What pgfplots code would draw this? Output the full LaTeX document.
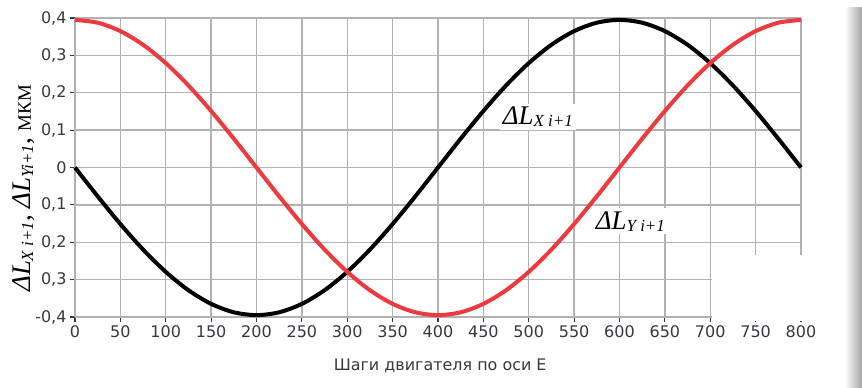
\documentclass[border=0pt]{standalone}
\usepackage{fontspec}
\setmainfont{Liberation Serif}
\setsansfont{DejaVu Sans}
\usepackage{pgfplots}
\pgfplotsset{compat=1.18}
\definecolor{gridgray}{RGB}{178,178,178}
\definecolor{redc}{RGB}{236,58,62}
\definecolor{txt}{RGB}{55,55,65}
\newcommand{\tf}{\sffamily\fontsize{16bp}{16bp}\selectfont}
% \DL{main size}{sub size}{subscript}
\newcommand{\DL}[3]{{\fontsize{#1}{#1}\selectfont\textit{ΔL}}\raisebox{-0.22em}{\fontsize{#2}{#2}\selectfont\textit{#3}}}
\begin{document}
\begin{tikzpicture}
\path[use as bounding box] (-75bp,-71bp) rectangle (787bp,317bp);
\begin{axis}[
  at={(0,0)}, anchor=south west,
  scale only axis, width=726bp, height=299bp,
  xmin=0, xmax=800, ymin=-0.4, ymax=0.4,
  axis x line*=bottom, axis y line*=left,
  axis line style={gridgray, line width=1.4pt, -},
  xtick={0,50,100,150,200,250,300,350,400,450,500,550,600,650,700,750,800},
  xticklabel={\tf\pgfmathprintnumber{\tick}},
  ytick={-0.4,-0.3,-0.2,-0.1,0,0.1,0.2,0.3,0.4},
  yticklabels={{\tf -0,4},{\tf 0,3},{\tf 0,2},{\tf 0,1},{\tf 0},{\tf 0,1},{\tf 0,2},{\tf 0,3},{\tf 0,4}},
  /pgf/number format/assume math mode=true,
  grid=major,
  major grid style={gridgray, line width=1.4pt},
  tick style={txt, line width=1.2pt},
  tick align=outside, major tick length=5bp,
  tick label style={font=\tf, text=txt},
  clip=false,
]
\addplot[black, line width=4bp, smooth] coordinates {
(0,0) (25,-0.0771) (50,-0.1512) (75,-0.2195) (100,-0.2793) (125,-0.3284)
(150,-0.3649) (175,-0.3874) (200,-0.395) (225,-0.3874) (250,-0.3649)
(275,-0.3284) (300,-0.2793) (325,-0.2195) (350,-0.1512) (375,-0.0771)
(400,0) (425,0.0771) (450,0.1512) (475,0.2195) (500,0.2793) (525,0.3284)
(550,0.3649) (575,0.3874) (600,0.395) (625,0.3874) (650,0.3649)
(675,0.3284) (700,0.2793) (725,0.2195) (750,0.1512) (775,0.0771) (800,0)
};
\addplot[redc, line width=4bp, smooth] coordinates {
(0,0.395) (25,0.3874) (50,0.3649) (75,0.3284) (100,0.2793) (125,0.2195)
(150,0.1512) (175,0.0771) (200,0) (225,-0.0771) (250,-0.1512)
(275,-0.2195) (300,-0.2793) (325,-0.3284) (350,-0.3649) (375,-0.3874)
(400,-0.395) (425,-0.3874) (450,-0.3649) (475,-0.3284) (500,-0.2793)
(525,-0.2195) (550,-0.1512) (575,-0.0771) (600,0) (625,0.0771)
(650,0.1512) (675,0.2195) (700,0.2793) (725,0.3284) (750,0.3649)
(775,0.3874) (800,0.395)
};
\node[fill=white, inner sep=3bp] at (axis cs:510,0.136) {\DL{27}{17}{X i+1}};
\node[fill=white, inner sep=3bp] at (axis cs:612,-0.144) {\DL{27}{17}{Y i+1}};
\node[rotate=90] at (rel axis cs:-0.070,0.43) {\DL{27}{17}{X i+1}{\fontsize{27}{27}\selectfont, }\DL{27}{17}{Yi+1}{\fontsize{27}{27}\selectfont, }{\fontsize{19}{19}\selectfont МКМ}};
\node[font=\sffamily\fontsize{16}{16}\selectfont, text=txt] at (rel axis cs:0.503,0) [yshift=-49bp] {Шаги двигателя по оси Е};
\fill[white] (axis cs:702,-0.233) rectangle (axis cs:850,-0.41);
\end{axis}
\shade[left color=white, right color=black!35] (770bp,-71bp) rectangle (787bp,309bp);
\end{tikzpicture}
\end{document}
